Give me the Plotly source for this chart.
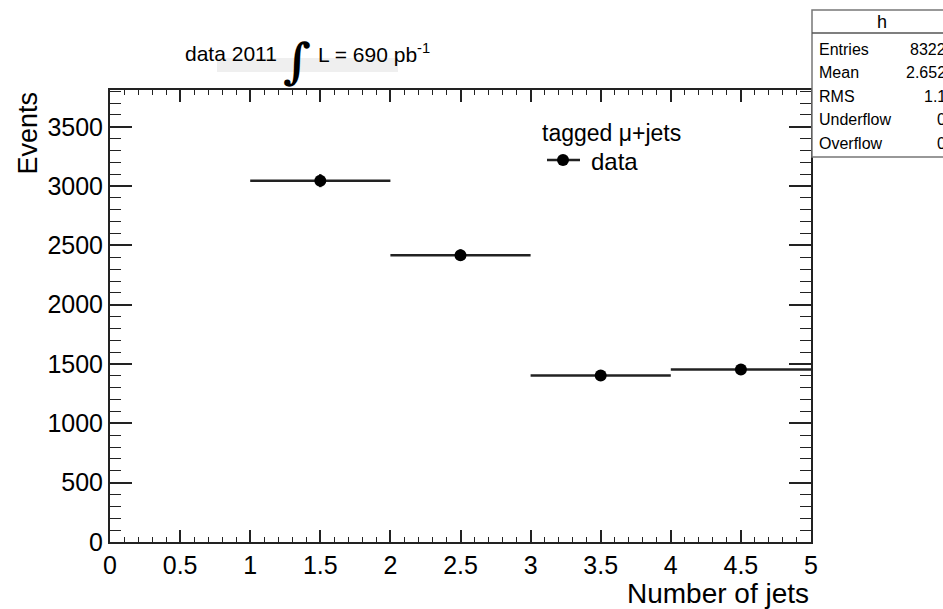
import plotly.graph_objects as go
import numpy as np

# ---- data ----
bin_centers = [1.5, 2.5, 3.5, 4.5]
bin_half_widths = [0.5, 0.5, 0.5, 0.5]
events = [3046, 2418, 1404, 1454]
stat_labels = ["Entries", "Mean", "RMS", "Underflow", "Overflow"]
stat_values = ["8322", "2.652", "1.1", "0", "0"]
hist_name = "h"
legend_header = "tagged \u03bc+jets"
legend_entry = "data"

W, H = 943, 609
L, R, T, B = 110, 811, 90, 542
FONT = "Liberation Sans, Arial, Helvetica, sans-serif"

def px2x(px):
    return (px - L) / (R - L)

def px2y(py):
    return (B - py) / (B - T)

errs = [np.sqrt(v) for v in events]

fig = go.Figure()
fig.add_trace(go.Scatter(
    x=bin_centers, y=events, mode="markers",
    marker=dict(color="black", size=12),
    error_x=dict(type="data", array=bin_half_widths, width=0, thickness=2.5, color="#222"),
    error_y=dict(type="data", array=errs, width=0, thickness=2.5, color="#222"),
    showlegend=False, hoverinfo="x+y",
))

axis_common = dict(
    showline=True, linecolor="#222", linewidth=2, mirror="allticks",
    ticks="inside", tickcolor="#222", tickwidth=1.5,
    showgrid=False, zeroline=False,
    tickfont=dict(family=FONT, size=25, color="black"),
)

fig.update_xaxes(range=[0, 5], dtick=0.5, tick0=0, ticklen=12,
                 minor=dict(dtick=0.1, ticklen=5, ticks="inside", tickcolor="#222", tickwidth=1.2),
                 **axis_common)
fig.update_yaxes(range=[0, 3810], dtick=500, tick0=0, ticklen=22,
                 minor=dict(dtick=100, ticklen=11, ticks="inside", tickcolor="#222", tickwidth=1.2),
                 **axis_common)

annotations = []
shapes = []

# axis titles
annotations.append(dict(xref="paper", yref="paper", x=px2x(27), y=1, xanchor="center", yanchor="top",
                        text="Events", textangle=-90, showarrow=False,
                        font=dict(family=FONT, size=27, color="black")))
annotations.append(dict(xref="paper", yref="paper", x=1, y=px2y(593), xanchor="right", yanchor="middle",
                        text="Number of jets", showarrow=False,
                        font=dict(family=FONT, size=28, color="black")))

# top title with luminosity
shapes.append(dict(type="rect", xref="paper", yref="paper", x0=px2x(217), x1=px2x(398),
                   y0=px2y(72), y1=px2y(58), fillcolor="#efefef", line=dict(width=0), layer="below"))
annotations.append(dict(xref="paper", yref="paper", x=px2x(183), y=px2y(53), xanchor="left", yanchor="middle",
                        text="data 2011", showarrow=False, font=dict(family=FONT, size=21, color="black")))
annotations.append(dict(xref="paper", yref="paper", x=px2x(297), y=px2y(61), xanchor="center", yanchor="middle",
                        text="<b>\u222b</b>", showarrow=False,
                        font=dict(family="DejaVu Serif, serif", size=48, color="black")))
annotations.append(dict(xref="paper", yref="paper", x=px2x(316), y=px2y(53), xanchor="left", yanchor="middle",
                        text="L = 690 pb<sup>-1</sup>", showarrow=False,
                        font=dict(family=FONT, size=21, color="black")))

# legend (drawn manually)
annotations.append(dict(xref="paper", yref="paper", x=px2x(540), y=px2y(133), xanchor="left", yanchor="middle",
                        text=legend_header, showarrow=False, font=dict(family=FONT, size=23, color="black")))
annotations.append(dict(xref="paper", yref="paper", x=px2x(589), y=px2y(161), xanchor="left", yanchor="middle",
                        text=legend_entry, showarrow=False, font=dict(family=FONT, size=24, color="black")))
shapes.append(dict(type="line", xref="paper", yref="paper", x0=px2x(547), x1=px2x(580),
                   y0=px2y(160), y1=px2y(160), line=dict(color="#222", width=2.5)))
shapes.append(dict(type="circle", xref="paper", yref="paper", xsizemode="pixel", ysizemode="pixel",
                   xanchor=px2x(563), yanchor=px2y(160), x0=-6, x1=6, y0=-6, y1=6,
                   fillcolor="black", line=dict(color="black", width=0)))

# stats box
bx0, bx1, by0, by1 = 812, 953, 10, 157
shapes.append(dict(type="rect", xref="paper", yref="paper", x0=px2x(bx0), x1=px2x(bx1),
                   y0=px2y(by1), y1=px2y(by0), fillcolor="white", line=dict(color="#777", width=1.5)))
shapes.append(dict(type="line", xref="paper", yref="paper", x0=px2x(bx0), x1=px2x(bx1),
                   y0=px2y(33), y1=px2y(33), line=dict(color="#555", width=1.5)))
annotations.append(dict(xref="paper", yref="paper", x=px2x(882), y=px2y(22), xanchor="center", yanchor="middle",
                        text=hist_name, showarrow=False, font=dict(family=FONT, size=18, color="black")))
row_y = [49, 72.5, 96, 119.5, 143]
for lab, val, ry in zip(stat_labels, stat_values, row_y):
    annotations.append(dict(xref="paper", yref="paper", x=px2x(817), y=px2y(ry), xanchor="left", yanchor="middle",
                            text=lab, showarrow=False, font=dict(family=FONT, size=16, color="black")))
    annotations.append(dict(xref="paper", yref="paper", x=px2x(948), y=px2y(ry), xanchor="right", yanchor="middle",
                            text=val, showarrow=False, font=dict(family=FONT, size=16, color="black")))

fig.update_layout(
    width=W, height=H,
    margin=dict(l=L, r=W - R, t=T, b=H - B, pad=0),
    plot_bgcolor="white", paper_bgcolor="white",
    annotations=annotations, shapes=shapes,
    showlegend=False,
)

fig.write_html("out.html")
